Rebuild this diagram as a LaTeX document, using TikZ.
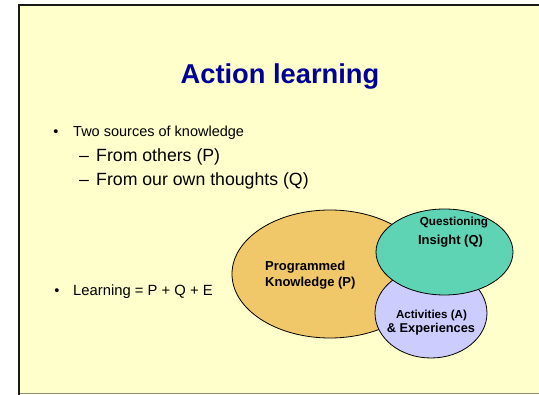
\documentclass[tikz,border=0pt]{standalone}
\usepackage{fontspec}
\setmainfont{Liberation Sans}
\usetikzlibrary{shapes.geometric}
\definecolor{slidebg}{RGB}{255,255,204}
\definecolor{titleblue}{RGB}{0,0,153}
\definecolor{progfill}{RGB}{240,200,105}
\definecolor{quesfill}{RGB}{95,212,180}
\definecolor{actfill}{RGB}{204,204,255}

\begin{document}
\begin{tikzpicture}[x=1pt, y=-1pt,
    txt/.style={inner sep=0pt, anchor=base west},
    blob/.style={ellipse, draw=black, line width=0.8pt, inner sep=0pt}]
\useasboundingbox (0,0) rectangle (539,395);
\fill[slidebg] (18,5) rectangle (539,394);
\draw[black!90, line width=2pt] (18.5,395) -- (18.5,5) -- (539,5);
\draw[gray!80!olive, line width=0.8pt] (19.5,393.5) -- (539,393.5);
\node[inner sep=0pt, anchor=base, text=titleblue, font=\fontsize{27.3}{32}\selectfont\bfseries]
    (title) at (280,84) {Action learning};
\node[inner sep=0pt, anchor=base, font=\fontsize{14.5}{17}\selectfont] (b1) at (56,137) {•};
\node[txt, font=\fontsize{14.5}{17}\selectfont] (sources) at (73,137) {Two sources of knowledge};
\node[txt, font=\fontsize{17.7}{21}\selectfont] (d1) at (79,161.5) {–};
\node[txt, font=\fontsize{17.7}{21}\selectfont] (others) at (96,161.5) {From others (P)};
\node[txt, font=\fontsize{17.7}{21}\selectfont] (d2) at (79,185.5) {–};
\node[txt, font=\fontsize{17.7}{21}\selectfont] (own) at (96,185.5) {From our own thoughts (Q)};
\node[inner sep=0pt, anchor=base, font=\fontsize{14.5}{17}\selectfont] (b2) at (57,296) {•};
\node[txt, font=\fontsize{14.8}{17}\selectfont] (learning) at (73,296) {Learning = P + Q + E};
% the three ellipses
\node[blob, fill=progfill, minimum width=196pt, minimum height=128pt] (prog) at (330,274) {};
\node[blob, fill=actfill, minimum width=112pt, minimum height=90pt] (act) at (431,313) {};
\node[blob, fill=quesfill, minimum width=137pt, minimum height=86pt] (ques) at (444.5,252) {};
\node[txt, font=\fontsize{13}{15}\selectfont\bfseries] (progA) at (265,271) {Programmed};
\node[txt, font=\fontsize{13}{15}\selectfont\bfseries] (progB) at (265,287) {Knowledge (P)};
\node[inner sep=0pt, anchor=base, font=\fontsize{11.7}{14}\selectfont\bfseries] (quesA) at (454,226) {Questioning};
\node[inner sep=0pt, anchor=base, font=\fontsize{13}{15}\selectfont\bfseries] (quesB) at (450.5,245) {Insight (Q)};
\node[inner sep=0pt, anchor=base, font=\fontsize{11.6}{14}\selectfont\bfseries] (actA) at (431.5,319) {Activities (A)};
\node[inner sep=0pt, anchor=base, font=\fontsize{12.8}{15}\selectfont\bfseries] (actB) at (431,333) {\& Experiences};
\end{tikzpicture}
\end{document}
